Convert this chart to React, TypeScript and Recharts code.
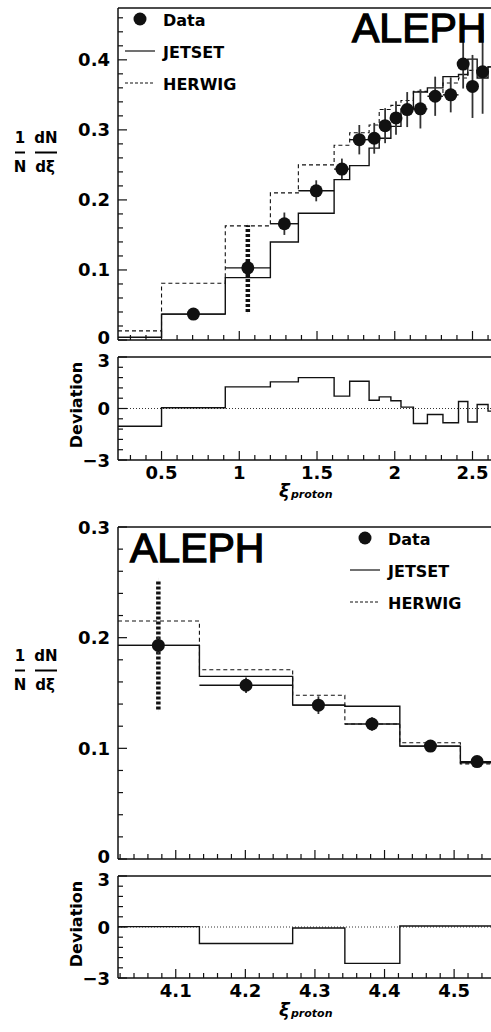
import React from 'react';
import { ComposedChart, Line, Scatter, ErrorBar, XAxis, YAxis, ReferenceLine } from 'recharts';

const FONT = '"DejaVu Sans", "Liberation Sans", sans-serif';
const INK = '#111';

// ---- upper figure: xi 0.22 .. 2.62 ----
const topEdges = [0.22, 0.5, 0.91, 1.2, 1.38, 1.61, 1.71, 1.835, 1.9, 1.975, 2.04, 2.12, 2.21, 2.31, 2.41, 2.47, 2.53, 2.6, 2.7];
const topJetset = [0.004, 0.037, 0.089, 0.14, 0.181, 0.229, 0.249, 0.274, 0.288, 0.305, 0.33, 0.354, 0.36, 0.376, 0.379, 0.401, 0.374, 0.39];
const topHerwig = [0.013, 0.081, 0.163, 0.21, 0.25, 0.278, 0.296, 0.307, 0.329, 0.335, 0.342, 0.355, 0.352, 0.367, 0.374, 0.385, 0.385, 0.39];
const topDeviation = [-1.03, 0.04, 1.26, 1.55, 1.8, 0.72, 1.59, 0.48, 0.68, 0.45, 0.08, -0.87, -0.35, -0.83, 0.41, -0.79, 0.23, -0.15];
const topXi = [0.705, 1.055, 1.29, 1.495, 1.66, 1.772, 1.868, 1.938, 2.008, 2.08, 2.165, 2.26, 2.36, 2.44, 2.5, 2.565];
const topVal = [0.037, 0.103, 0.166, 0.213, 0.244, 0.286, 0.288, 0.306, 0.317, 0.329, 0.33, 0.348, 0.35, 0.394, 0.362, 0.383];
const topErr = [0.003, 0.008, 0.016, 0.015, 0.015, 0.021, 0.022, 0.025, 0.024, 0.025, 0.028, 0.028, 0.025, 0.035, 0.045, 0.06];
const topSystXi = [1.055];
const topSystLow = [0.04];
const topSystHigh = [0.164];

// ---- lower figure: xi 4.02 .. 4.55 ----
const botEdges = [4.017, 4.134, 4.268, 4.343, 4.422, 4.509, 4.56];
const botJetset = [0.193, 0.165, 0.139, 0.138, 0.102, 0.087];
const botHerwig = [0.215, 0.171, 0.148, 0.122, 0.105, 0.086];
const botDeviation = [0.02, -0.97, -0.06, -2.14, 0.06, 0.06];
const botXi = [4.075, 4.201, 4.305, 4.382, 4.466, 4.533];
const botVal = [0.193, 0.157, 0.139, 0.122, 0.102, 0.088];
const botErr = [0.008, 0.007, 0.008, 0.006, 0.004, 0.004];
const botSystXi = [4.075];
const botSystLow = [0.135];
const botSystHigh = [0.252];

const range = (a: number, step: number, n: number) =>
  Array.from({ length: n }, (_, i) => +(a + step * i).toFixed(3));

const topXTicks = range(0.3, 0.1, 24);
const botXTicks = range(4.02, 0.02, 27);
const topYTicks = range(0, 0.02, 24);
const botYTicks = range(0, 0.02, 16);
const devTicks = range(-3, 0.6, 11);

const steps = (edges: number[], vals: number[]) => [
  ...vals.map((v, i) => ({ x: edges[i], y: v })),
  { x: edges[vals.length], y: vals[vals.length - 1] },
];

const points = (xs: number[], ys: number[], errs: number[], edges: number[], first: number) =>
  xs.map((x, i) => ({
    x,
    y: ys[i],
    ey: errs[i],
    ex: [x - edges[i + first], edges[i + first + 1] - x],
  }));

const syst = (xs: number[], ys: number[], lo: number[], hi: number[]) =>
  xs.map((x, i) => ({ x, y: ys[i], es: [ys[i] - lo[i], hi[i] - ys[i]] }));

const isMajor = (v: number, step: number) => Math.abs(v / step - Math.round(v / step)) < 1e-6;

// shift lets the "0" of the main plot and the "3" of the ratio plot sit apart a little
const yTick = (p: any, step: number, fmt: (v: number) => string, shift: (v: number) => number) => {
  const v = p.payload.value;
  const major = isMajor(v, step);
  return (
    <g>
      <line x1={p.x} x2={p.x + (major ? 9 : 5)} y1={p.y} y2={p.y} stroke={INK} strokeWidth={1.2} />
      {major && (
        <text x={p.x - 8} y={p.y + 6.5 + shift(v)} textAnchor="end" fontFamily={FONT} fontWeight="bold" fontSize={18} fill="#000">
          {fmt(v)}
        </text>
      )}
    </g>
  );
};

const xTick = (p: any, step: number, labels: boolean) => {
  const v = p.payload.value;
  const major = isMajor(v, step);
  return (
    <g>
      <line x1={p.x} x2={p.x} y1={p.y} y2={p.y - (major ? 9 : 5)} stroke={INK} strokeWidth={1.2} />
      {labels && major && (
        <text x={p.x} y={p.y + 19} textAnchor="middle" fontFamily={FONT} fontWeight="bold" fontSize={18} fill="#000">
          {String(v)}
        </text>
      )}
    </g>
  );
};

const fmtVal = (v: number) => (v === 0 ? '0' : v.toFixed(1));
const fmtDev = (v: number) => (v < 0 ? '\u22123' : String(Math.round(v)));
const shiftVal = (v: number) => (v === 0 ? -3 : 0);
const shiftDev = (v: number) => (v === 3 ? 3 : 0);

const marker = (p: any) => <circle cx={p.cx} cy={p.cy} r={6.5} fill={INK} />;
const none = () => <g />;

function MainPanel(props: any) {
  const { top, height, marginTop, xDomain, yDomain, xTicks, xStep, yTicks, edges, jetset, herwig, pts, sys } = props;
  return (
    <div style={{ position: 'absolute', left: 0, top }}>
      <ComposedChart width={491} height={height} margin={{ top: marginTop, right: 0, bottom: 0, left: 58 }}>
        <XAxis type="number" dataKey="x" domain={xDomain} allowDataOverflow ticks={xTicks} interval={0}
          tickSize={0} tickMargin={0} height={10} axisLine={{ stroke: INK, strokeWidth: 1.5 }} tickLine={false}
          tick={(p: any) => xTick(p, xStep, false)} />
        <YAxis type="number" dataKey="y" domain={yDomain} allowDataOverflow ticks={yTicks} interval={0}
          tickSize={0} tickMargin={0} width={60} axisLine={{ stroke: INK, strokeWidth: 1.5 }} tickLine={false}
          tick={(p: any) => yTick(p, 0.1, fmtVal, shiftVal)} />
        <ReferenceLine y={yDomain[1]} stroke={INK} strokeWidth={1.5} />
        <Line data={steps(edges, herwig)} dataKey="y" type="stepAfter" stroke={INK} strokeWidth={1.1}
          strokeDasharray="4 3" dot={false} isAnimationActive={false} />
        <Line data={steps(edges, jetset)} dataKey="y" type="stepAfter" stroke={INK} strokeWidth={1.4}
          dot={false} isAnimationActive={false} />
        <Scatter data={sys} shape={none} isAnimationActive={false}>
          <ErrorBar dataKey="es" direction="y" width={0} stroke={INK} strokeWidth={4.5} strokeDasharray="3 2" />
        </Scatter>
        <Scatter data={pts} shape={marker} isAnimationActive={false}>
          <ErrorBar dataKey="ex" direction="x" width={0} stroke={INK} strokeWidth={1.4} />
          <ErrorBar dataKey="ey" direction="y" width={0} stroke="#333" strokeWidth={1.8} />
        </Scatter>
      </ComposedChart>
    </div>
  );
}

function DevPanel(props: any) {
  const { top, height, marginTop, axisH, xDomain, xTicks, xStep, edges, dev } = props;
  return (
    <div style={{ position: 'absolute', left: 0, top }}>
      <ComposedChart width={491} height={height} margin={{ top: marginTop, right: 0, bottom: 0, left: 58 }}>
        <XAxis type="number" dataKey="x" domain={xDomain} allowDataOverflow ticks={xTicks} interval={0}
          tickSize={0} tickMargin={0} height={axisH} axisLine={{ stroke: INK, strokeWidth: 1.5 }} tickLine={false}
          tick={(p: any) => xTick(p, xStep, true)} />
        <YAxis type="number" dataKey="y" domain={[-3, 3]} allowDataOverflow ticks={devTicks} interval={0}
          tickSize={0} tickMargin={0} width={60} axisLine={{ stroke: INK, strokeWidth: 1.5 }} tickLine={false}
          tick={(p: any) => yTick(p, 3, fmtDev, shiftDev)} />
        <ReferenceLine y={3} stroke={INK} strokeWidth={1.5} />
        <ReferenceLine y={0} stroke="#333" strokeWidth={1} strokeDasharray="1 2" />
        <Line data={steps(edges, dev)} dataKey="y" type="stepAfter" stroke={INK} strokeWidth={1.4}
          dot={false} isAnimationActive={false} />
      </ComposedChart>
    </div>
  );
}

const txt = { fontFamily: FONT, fontWeight: 'bold' as const, fill: '#000' };

function YTitle({ dy }: { dy: number }) {
  return (
    <g>
      <text x={20} y={143 + dy} textAnchor="middle" fontSize={15} {...txt}>1</text>
      <line x1={15} x2={25} y1={152.5 + dy} y2={152.5 + dy} stroke="#000" strokeWidth={2} />
      <text x={20} y={172 + dy} textAnchor="middle" fontSize={15} {...txt}>N</text>
      <text x={46} y={143 + dy} textAnchor="middle" fontSize={15} {...txt}>dN</text>
      <line x1={35} x2={57} y1={152.5 + dy} y2={152.5 + dy} stroke="#000" strokeWidth={2} />
      <text x={45} y={172 + dy} textAnchor="middle" fontSize={15} {...txt}>dξ</text>
    </g>
  );
}

function XTitle({ y }: { y: number }) {
  return (
    <g>
      <text x={279} y={y} fontSize={18} fontStyle="italic" {...txt}>ξ</text>
      <text x={291} y={y + 1} fontSize={11} fontStyle="italic" {...txt}>proton</text>
    </g>
  );
}

function Legend({ x, y }: { x: number; y: number }) {
  return (
    <g>
      <circle cx={x + 15} cy={y} r={6.5} fill={INK} />
      <text x={x + 38} y={y + 7} fontSize={16} {...txt}>Data</text>
      <line x1={x} x2={x + 30} y1={y + 32} y2={y + 32} stroke={INK} strokeWidth={1.2} />
      <text x={x + 38} y={y + 39} fontSize={16} {...txt}>JETSET</text>
      <line x1={x} x2={x + 30} y1={y + 64} y2={y + 64} stroke={INK} strokeWidth={1.1} strokeDasharray="3 2" />
      <text x={x + 38} y={y + 71} fontSize={16} {...txt}>HERWIG</text>
    </g>
  );
}

// medium-weight stamp: regular face with a thin outline to thicken the strokes
const aleph = { fontFamily: '"Liberation Sans", sans-serif', fontSize: 41, fill: '#000', stroke: '#000', strokeWidth: 1.3 };

export default function App() {
  return (
    <div style={{ position: 'absolute', left: 0, top: 0, width: 491, height: 1032, overflow: 'hidden', background: '#fff' }}>
      <MainPanel top={0} height={350} marginTop={8} xDomain={[0.22, 2.619]} yDomain={[0, 0.474]}
        xTicks={topXTicks} xStep={0.5} yTicks={topYTicks} edges={topEdges} jetset={topJetset} herwig={topHerwig}
        pts={points(topXi, topVal, topErr, topEdges, 1)}
        sys={syst(topSystXi, [topVal[1]], topSystLow, topSystHigh)} />
      <DevPanel top={340} height={170} marginTop={17} axisH={50} xDomain={[0.22, 2.619]}
        xTicks={topXTicks} xStep={0.5} edges={topEdges} dev={topDeviation} />
      <MainPanel top={500} height={369} marginTop={27} xDomain={[4.017, 4.553]} yDomain={[0, 0.3]}
        xTicks={botXTicks} xStep={0.1} yTicks={botYTicks} edges={botEdges} jetset={botJetset} herwig={botHerwig}
        pts={points(botXi, botVal, botErr, botEdges, 0)}
        sys={syst(botSystXi, [botVal[0]], botSystLow, botSystHigh)} />
      <DevPanel top={860} height={170} marginTop={16} axisH={52} xDomain={[4.017, 4.553]}
        xTicks={botXTicks} xStep={0.1} edges={botEdges} dev={botDeviation} />

      <svg width={491} height={1032} style={{ position: 'absolute', left: 0, top: 0, pointerEvents: 'none' }}>
        <text x={352} y={42} {...aleph}>ALEPH</text>
        <text x={130} y={562} {...aleph}>ALEPH</text>
        <Legend x={125} y={19} />
        <Legend x={350} y={538} />
        <YTitle dy={0} />
        <YTitle dy={518} />
        <text transform="translate(82,405) rotate(-90)" textAnchor="middle" fontSize={16} {...txt}>Deviation</text>
        <text transform="translate(82,924) rotate(-90)" textAnchor="middle" fontSize={16} {...txt}>Deviation</text>
        <XTitle y={497} />
        <XTitle y={1016} />
      </svg>
    </div>
  );
}
